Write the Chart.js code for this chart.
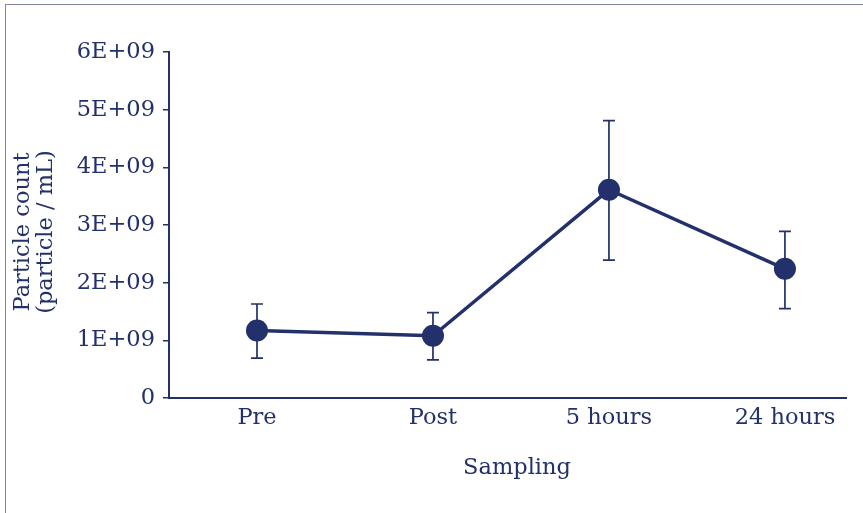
<!DOCTYPE html>
<html>
<head>
<meta charset="utf-8">
<script src="https://cdn.jsdelivr.net/npm/chart.js@4.4.1/dist/chart.umd.min.js"></script>
<style>
  html, body { margin: 0; padding: 0; background: #fff; }
  #wrap { position: relative; width: 863px; height: 513px; }
  #frame { position: absolute; left: 5px; top: 4px; right: -2px; bottom: -2px;
           border-top: 1.5px solid #7f86aa; border-left: 1.5px solid #7f86aa; }
  canvas { position: absolute; left: 0; top: 0; }
</style>
</head>
<body>
<div id="wrap">
  <div id="frame"></div>
  <canvas id="chart" width="863" height="513"></canvas>
</div>
<script>
const categories = ['Pre', 'Post', '5 hours', '24 hours'];
const meanCounts = [1.17e9, 1.08e9, 3.61e9, 2.24e9];
const errUpper = [1.63e9, 1.48e9, 4.81e9, 2.89e9];
const errLower = [0.69e9, 0.66e9, 2.39e9, 1.55e9];
const yTicks = [0, 1e9, 2e9, 3e9, 4e9, 5e9, 6e9];

const navy = '#22306b';
const font = 'DejaVu Serif';
const fontSize = 22.5;

const errorBars = {
    id: 'errorBars',
    beforeDatasetsDraw(chart) {
        const ctx = chart.ctx;
        const xs = chart.scales.x, ys = chart.scales.y;
        ctx.save();
        ctx.strokeStyle = navy;
        ctx.lineWidth = 1.7;
        categories.forEach((c, i) => {
            const x = xs.getPixelForValue(i);
            const top = ys.getPixelForValue(errUpper[i]);
            const bot = ys.getPixelForValue(errLower[i]);
            ctx.beginPath();
            ctx.moveTo(x, top); ctx.lineTo(x, bot);
            ctx.moveTo(x - 6, top); ctx.lineTo(x + 6, top);
            ctx.moveTo(x - 6, bot); ctx.lineTo(x + 6, bot);
            ctx.stroke();
        });
        ctx.restore();
    }
};

const axisTitles = {
    id: 'axisTitles',
    afterDraw(chart) {
        const ctx = chart.ctx;
        ctx.save();
        ctx.fillStyle = navy;
        ctx.font = fontSize + 'px "' + font + '"';
        ctx.textAlign = 'center';
        ctx.textBaseline = 'middle';
        ctx.fillText('Sampling', 517, 468);
        ctx.translate(0, 232);
        ctx.rotate(-Math.PI / 2);
        ctx.fillText('Particle count', 0, 23);
        ctx.fillText('(particle / mL)', 0, 46);
        ctx.restore();
    }
};

new Chart(document.getElementById('chart').getContext('2d'), {
    type: 'line',
    data: {
        datasets: [{
            data: meanCounts.map((v, i) => ({ x: i, y: v })),
            borderColor: navy,
            backgroundColor: navy,
            borderWidth: 3.4,
            pointRadius: 11,
            pointHoverRadius: 11,
            pointBorderWidth: 0,
            tension: 0
        }]
    },
    options: {
        responsive: false,
        animation: false,
        layout: { padding: { left: 0, top: 52, right: 17, bottom: 0 } },
        plugins: { legend: { display: false }, tooltip: { enabled: false } },
        scales: {
            x: {
                type: 'linear',
                min: -0.5,
                max: 3.347,
                afterBuildTicks: axis => { axis.ticks = categories.map((c, i) => ({ value: i })); },
                afterFit: axis => { axis.height = 115; },
                grid: { display: false, drawTicks: false },
                border: { display: true, color: navy, width: 2 },
                ticks: {
                    padding: 7,
                    color: navy,
                    font: { family: font, size: fontSize },
                    callback: v => categories[v] || ''
                }
            },
            y: {
                min: 0,
                max: 6e9,
                afterBuildTicks: axis => { axis.ticks = yTicks.map(v => ({ value: v })); },
                afterFit: axis => { axis.width = 169; },
                grid: { drawOnChartArea: false, drawTicks: true, tickLength: 6, color: navy, lineWidth: 1.5 },
                border: { display: true, color: navy, width: 2 },
                ticks: {
                    padding: 8,
                    color: navy,
                    font: { family: font, size: fontSize },
                    callback: v => v === 0 ? '0' : (v / 1e9) + 'E+09'
                }
            }
        }
    },
    plugins: [errorBars, axisTitles]
});
</script>
</body>
</html>
